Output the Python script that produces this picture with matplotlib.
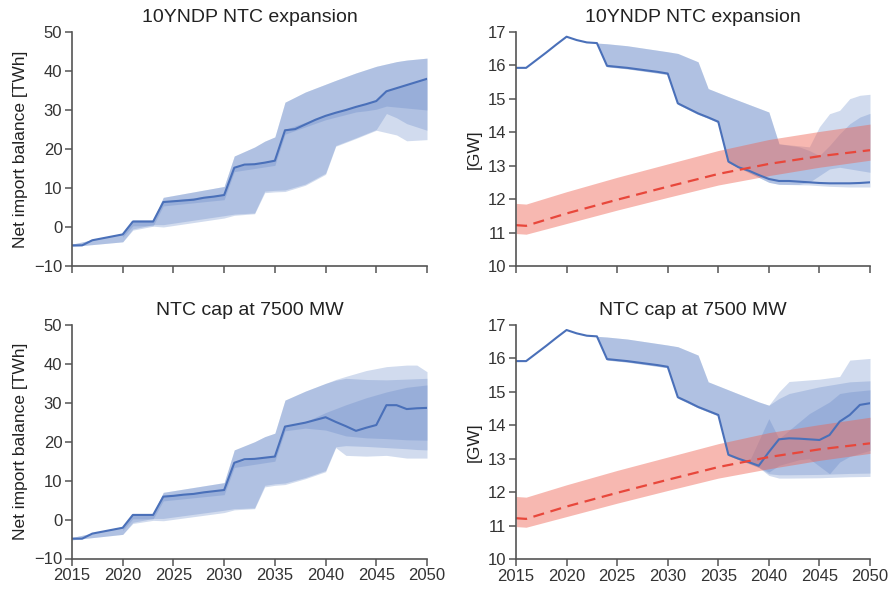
import matplotlib
matplotlib.use("Agg")
import matplotlib.pyplot as plt
import numpy as np

plt.rcParams['font.family'] = ['Liberation Sans', 'DejaVu Sans']

years = list(range(2015, 2051))

# ---------- Top-left: net import balance, 10YNDP NTC expansion ----------
tl_line = [-4.7, -4.7, -3.4, -2.9, -2.4, -1.9, 1.4, 1.4, 1.4, 6.4, 6.6, 6.8, 7.0, 7.5, 7.8, 8.2,
           15.2, 16.0, 16.1, 16.5, 17.0, 24.8, 25.1, 26.3, 27.5, 28.5, 29.3, 30.0, 30.8, 31.5, 32.3,
           34.8, 35.6, 36.4, 37.2, 38.0]
tl_ab_years = [2015, 2020, 2021, 2023, 2024, 2030, 2031, 2033, 2034, 2035, 2036, 2038, 2040, 2041,
               2043, 2045, 2046, 2047, 2048, 2050]
tl_a_hi = [-4.4, -1.6, 1.8, 1.8, 7.6, 10.4, 18.2, 20.5, 22.0, 23.1, 32.0, 34.6, 36.6, 37.6, 39.5,
           41.2, 41.8, 42.4, 42.8, 43.3]
tl_a_lo = [-5.0, -3.8, -0.8, 0.2, 0.0, 2.3, 3.0, 3.4, 8.8, 9.0, 9.1, 10.7, 13.5, 20.7, 22.7, 24.8,
           24.2, 23.6, 22.1, 22.4]
tl_b_hi = tl_a_hi
tl_b_lo = [-5.0, -3.8, -0.5, 0.6, 0.6, 2.9, 3.3, 3.6, 9.2, 9.4, 9.5, 11.0, 13.8, 20.9, 22.9, 25.0,
           29.1, 28.0, 26.5, 24.8]
tl_c_years = [2020, 2021, 2023, 2024, 2030, 2031, 2035, 2036, 2040, 2043, 2044, 2045, 2046, 2048, 2050]
tl_c_hi = [-1.7, 1.6, 1.6, 6.6, 8.4, 15.4, 17.2, 25.0, 28.7, 31.0, 31.7, 32.5, 35.0, 36.6, 38.2]
tl_c_lo = [-2.6, 0.3, 0.3, 5.4, 7.0, 14.2, 15.8, 23.8, 27.5, 29.5, 29.8, 30.2, 31.0, 30.5, 30.0]

# ---------- Bottom-left: net import balance, NTC cap at 7500 MW ----------
bl_line = [-4.9, -4.9, -3.6, -3.1, -2.6, -2.1, 1.2, 1.2, 1.2, 5.9, 6.1, 6.4, 6.6, 7.0, 7.3, 7.6,
           14.6, 15.5, 15.6, 15.9, 16.2, 23.9, 24.4, 24.9, 25.6, 26.3, 25.1, 24.0, 22.8, 23.6, 24.3,
           29.4, 29.4, 28.4, 28.6, 28.7]
bl_ab_years = [2015, 2020, 2021, 2023, 2024, 2030, 2031, 2033, 2034, 2035, 2036, 2038, 2040, 2041,
               2042, 2044, 2046, 2048, 2049, 2050]
bl_a_hi = [-4.6, -1.8, 1.5, 1.5, 7.0, 9.5, 17.9, 20.0, 21.3, 22.2, 30.7, 33.0, 35.0, 36.0, 36.8,
           38.3, 39.3, 39.7, 39.7, 38.0]
bl_a_lo = [-5.2, -3.8, -1.0, -0.2, -0.3, 1.8, 2.5, 2.8, 8.4, 8.8, 9.0, 10.5, 12.3, 18.5, 16.5,
           16.3, 16.5, 15.8, 15.8, 15.8]
bl_b_hi = [-4.6, -1.8, 1.5, 1.5, 7.0, 9.5, 17.9, 20.0, 21.3, 22.2, 30.7, 33.0, 35.0, 35.8, 36.3,
           36.0, 35.9, 36.1, 36.2, 36.3]
bl_b_lo = [-5.2, -3.8, -0.7, 0.3, 0.3, 2.4, 2.8, 3.0, 8.8, 9.2, 9.4, 10.8, 12.6, 18.7, 19.0,
           18.8, 18.5, 18.2, 18.0, 17.9]
bl_c_years = [2020, 2021, 2023, 2024, 2030, 2031, 2035, 2036, 2038, 2040, 2042, 2044, 2046, 2048, 2050]
bl_c_hi = [-1.9, 1.4, 1.4, 6.1, 7.8, 14.8, 16.4, 24.1, 25.1, 27.5, 29.5, 31.3, 32.8, 34.0, 34.6]
bl_c_lo = [-2.8, 0.2, 0.2, 4.8, 6.4, 13.4, 15.0, 22.8, 23.5, 23.0, 21.5, 21.0, 20.8, 20.5, 20.4]

# ---------- Top-right: capacity [GW], 10YNDP NTC expansion ----------
tr_line = [15.92, 15.92, 16.15, 16.38, 16.62, 16.85, 16.75, 16.68, 16.66, 15.98, 15.95, 15.92,
           15.88, 15.84, 15.80, 15.75, 14.86, 14.71, 14.56, 14.44, 14.31, 13.12, 12.95, 12.85,
           12.72, 12.60, 12.54, 12.54, 12.52, 12.50, 12.48, 12.47, 12.47, 12.47, 12.48, 12.50]
tr_a_years = [2023, 2024, 2026, 2030, 2031, 2033, 2034, 2035, 2036, 2040, 2041, 2044, 2045, 2046,
              2047, 2048, 2049, 2050]
tr_a_hi = [16.66, 16.64, 16.58, 16.40, 16.35, 16.10, 15.30, 15.18, 15.06, 14.60, 13.65, 13.56,
           14.16, 14.55, 14.65, 15.00, 15.10, 15.13]
tr_a_lo = [16.66, 15.95, 15.89, 15.72, 14.83, 14.53, 14.41, 14.28, 13.09, 12.50, 12.44, 12.42,
           12.40, 12.38, 12.37, 12.36, 12.36, 12.36]
tr_b_years = [2023, 2024, 2026, 2030, 2031, 2033, 2034, 2035, 2036, 2040, 2041, 2043, 2044, 2045,
              2046, 2047, 2048, 2049, 2050]
tr_b_hi = [16.66, 16.64, 16.58, 16.40, 16.35, 16.10, 15.30, 15.18, 15.06, 14.60, 13.65, 13.56,
           13.45, 13.30, 13.60, 13.95, 14.25, 14.45, 14.56]
tr_b_lo = [16.66, 15.95, 15.89, 15.72, 14.83, 14.53, 14.41, 14.28, 13.09, 12.50, 12.44, 12.44,
           12.50, 12.70, 12.90, 12.95, 12.90, 12.85, 12.80]

# ---------- Bottom-right: capacity [GW], NTC cap at 7500 MW ----------
br_line = [15.92, 15.92, 16.15, 16.38, 16.62, 16.85, 16.75, 16.68, 16.66, 15.98, 15.95, 15.92,
           15.88, 15.84, 15.80, 15.75, 14.84, 14.70, 14.55, 14.43, 14.31, 13.12, 13.00, 12.90,
           12.79, 13.20, 13.58, 13.61, 13.60, 13.58, 13.56, 13.71, 14.11, 14.31, 14.61, 14.66]
br_ab_years = [2023, 2024, 2026, 2030, 2031, 2033, 2034, 2035, 2036, 2039, 2040, 2041, 2042,
               2045, 2047, 2048, 2050]
br_a_hi = [16.66, 16.64, 16.58, 16.40, 16.35, 16.10, 15.30, 15.18, 15.06, 14.70, 14.60, 15.00,
           15.31, 15.38, 15.46, 15.95, 16.00]
br_a_lo = [16.66, 15.95, 15.89, 15.72, 14.81, 14.52, 14.40, 14.28, 13.09, 12.74, 12.50, 12.42,
           12.42, 12.43, 12.45, 12.46, 12.47]
br_b_hi = [16.66, 16.64, 16.58, 16.40, 16.35, 16.10, 15.30, 15.18, 15.06, 14.70, 14.60, 14.80,
           14.95, 15.15, 15.25, 15.30, 15.33]
br_b_lo = [16.66, 15.95, 15.89, 15.72, 14.81, 14.52, 14.40, 14.28, 13.09, 12.74, 12.55, 12.52,
           12.52, 12.53, 12.55, 12.56, 12.57]
br_c_years = [2038, 2040, 2041, 2043, 2044, 2046, 2047, 2048, 2050]
br_c_hi = [12.88, 14.20, 13.60, 14.10, 14.35, 14.70, 14.95, 15.00, 15.06]
br_c_lo = [12.88, 12.60, 12.80, 12.97, 13.00, 12.55, 12.90, 13.07, 13.25]

# ---------- Demand-related reference (red) in the right panels ----------
ref_years = [2015, 2016, 2020, 2025, 2030, 2035, 2040, 2045, 2050]
ref_mid = [11.22, 11.20, 11.57, 11.98, 12.37, 12.75, 13.05, 13.28, 13.46]
ref_hi = [11.87, 11.85, 12.22, 12.65, 13.05, 13.45, 13.78, 14.02, 14.24]
ref_lo = [10.97, 10.95, 11.27, 11.67, 12.05, 12.42, 12.70, 12.95, 13.16]

titles = ["10YNDP NTC expansion", "NTC cap at 7500 MW"]
left_ylabel = "Net import balance [TWh]"
right_ylabel = "[GW]"
xticks = [2015, 2020, 2025, 2030, 2035, 2040, 2045, 2050]
left_yticks = [-10, 0, 10, 20, 30, 40, 50]
right_yticks = [10, 11, 12, 13, 14, 15, 16, 17]

BLUE = '#4a70b9'
BAND = '#5b80c4'
BAND_A = 0.28
RED = '#e8473b'
RED_BAND = '#ee6352'

fig = plt.figure(figsize=(8.93, 5.89), dpi=100)
W, H = 893, 589

def add_ax(x0, x1, ytop, ybot):
    return fig.add_axes([x0 / W, 1 - ybot / H, (x1 - x0) / W, (ybot - ytop) / H])

ax_tl = add_ax(72, 427, 32, 266)
ax_tr = add_ax(516, 870, 31.7, 266)
ax_bl = add_ax(72, 427, 325, 558.5)
ax_br = add_ax(516, 870, 325, 559)

def style(ax, yticks, ylabel, title, show_x):
    ax.set_xlim(2015, 2050)
    ax.set_ylim(yticks[0], yticks[-1])
    ax.set_xticks(xticks)
    ax.set_yticks(yticks)
    if not show_x:
        ax.set_xticklabels([])
    for s in ['top', 'right']:
        ax.spines[s].set_visible(False)
    for s in ['left', 'bottom']:
        ax.spines[s].set_color('#555555')
        ax.spines[s].set_linewidth(1.2)
    ax.tick_params(direction='out', length=5, width=1.1, color='#555555',
                   labelsize=12, labelcolor='#333333', pad=2)
    ax.set_ylabel(ylabel, fontsize=12.5, color='#222222', labelpad=4)
    ax.set_title(title, fontsize=14, color='#222222', pad=7)

def bands(ax, specs):
    for yr, lo, hi in specs:
        ax.fill_between(yr, lo, hi, color=BAND, alpha=BAND_A, linewidth=0)

# Top-left
bands(ax_tl, [(tl_ab_years, tl_a_lo, tl_a_hi), (tl_ab_years, tl_b_lo, tl_b_hi),
              (tl_c_years, tl_c_lo, tl_c_hi)])
ax_tl.plot(years, tl_line, color=BLUE, lw=1.5)
style(ax_tl, left_yticks, left_ylabel, titles[0], False)

# Bottom-left
bands(ax_bl, [(bl_ab_years, bl_a_lo, bl_a_hi), (bl_ab_years, bl_b_lo, bl_b_hi),
              (bl_c_years, bl_c_lo, bl_c_hi)])
ax_bl.plot(years, bl_line, color=BLUE, lw=1.5)
style(ax_bl, left_yticks, left_ylabel, titles[1], True)

# Top-right
bands(ax_tr, [(tr_a_years, tr_a_lo, tr_a_hi), (tr_b_years, tr_b_lo, tr_b_hi)])
ax_tr.plot(years, tr_line, color=BLUE, lw=1.5)
ax_tr.fill_between(ref_years, ref_lo, ref_hi, color=RED_BAND, alpha=0.45, linewidth=0)
ax_tr.plot(ref_years, ref_mid, color=RED, lw=1.6, dashes=(5, 3))
style(ax_tr, right_yticks, right_ylabel, titles[0], False)

# Bottom-right
bands(ax_br, [(br_ab_years, br_a_lo, br_a_hi), (br_ab_years, br_b_lo, br_b_hi),
              (br_c_years, br_c_lo, br_c_hi)])
ax_br.plot(years, br_line, color=BLUE, lw=1.5)
ax_br.fill_between(ref_years, ref_lo, ref_hi, color=RED_BAND, alpha=0.45, linewidth=0)
ax_br.plot(ref_years, ref_mid, color=RED, lw=1.6, dashes=(5, 3))
style(ax_br, right_yticks, right_ylabel, titles[1], True)

fig.savefig('out.png', dpi=100)
